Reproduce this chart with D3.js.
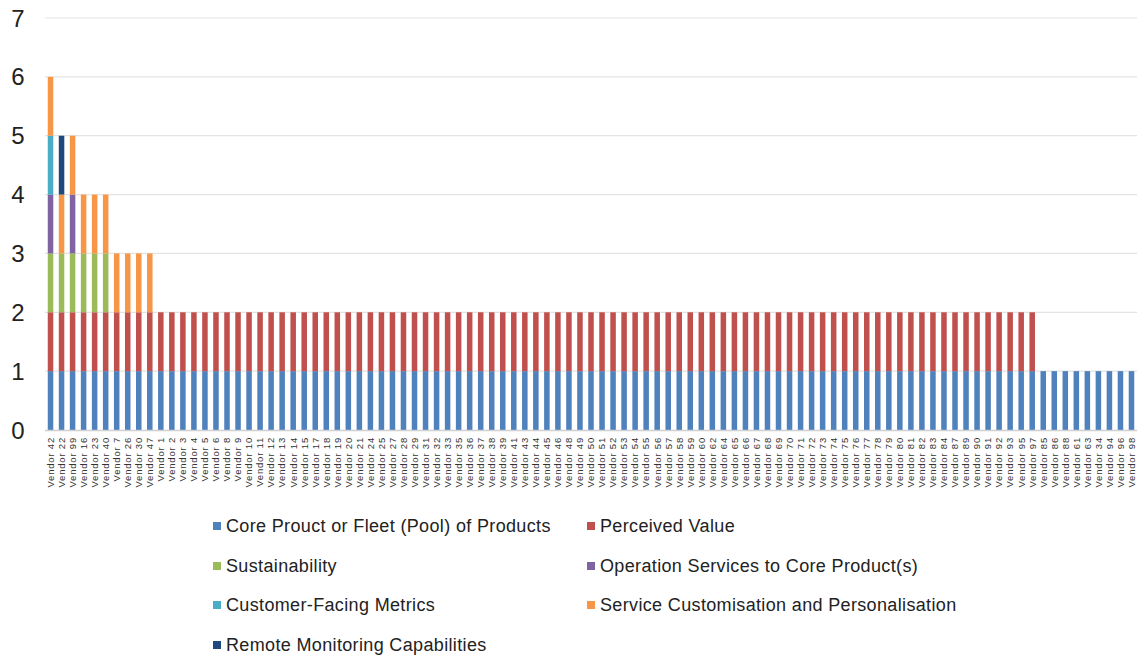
<!DOCTYPE html>
<html lang="en">
<head>
<meta charset="UTF-8">
<title>vendor-stacked-bars</title>
<script src="https://cdn.jsdelivr.net/npm/d3@7/dist/d3.min.js"></script>
<style>
  body { margin: 0; background: #fff; }
  svg { font-family: "Liberation Sans", Arial, sans-serif; }
</style>
</head>
<body>
<script>
// vendors in chart order
const vendors = [42, 22, 99, 16, 23, 40, 7, 26, 30, 47, 1, 2, 3, 4, 5, 6, 8, 9, 10, 11,
  12, 13, 14, 15, 17, 18, 19, 20, 21, 24, 25, 27, 28, 29, 31, 32, 33, 35, 36, 37,
  38, 39, 41, 43, 44, 45, 46, 48, 49, 50, 51, 52, 53, 54, 55, 56, 57, 58, 59, 60,
  62, 64, 65, 66, 67, 68, 69, 70, 71, 72, 73, 74, 75, 76, 77, 78, 79, 80, 81, 82,
  83, 84, 87, 89, 90, 91, 92, 93, 95, 97, 85, 86, 88, 61, 63, 34, 94, 96, 98]
  .map(n => 'Vendor ' + n);

const seriesNames = [
  'Core Prouct or Fleet (Pool) of Products',
  'Perceived Value',
  'Sustainability',
  'Operation Services to Core Product(s)',
  'Customer-Facing Metrics',
  'Service Customisation and Personalisation',
  'Remote Monitoring Capabilities'
];
const seriesColors = ['#4f81bd', '#c0504d', '#9bbb59', '#8064a2', '#4bacc6', '#f79646', '#1f497d'];

// one value per vendor, same order as vendors
const ones = n => Array(n).fill(1);
const zeros = n => Array(n).fill(0);
const core = ones(99);
const perceived = ones(90).concat(zeros(9));
const sustainability = ones(6).concat(zeros(93));
const operation = [1, 0, 1].concat(zeros(96));
const customerFacing = [1].concat(zeros(98));
const customisation = ones(10).concat(zeros(89));
const remote = [0, 1].concat(zeros(97));

const yTicks = [0, 1, 2, 3, 4, 5, 6, 7];

const seriesValues = [core, perceived, sustainability, operation, customerFacing, customisation, remote];
const rows = vendors.map((v, i) => {
  const r = { vendor: v };
  seriesNames.forEach((s, k) => { r[s] = seriesValues[k][i]; });
  return r;
});

const width = 1144, height = 656;
const svg = d3.select('body').append('svg')
  .attr('width', width)
  .attr('height', height);

const x = d3.scaleBand()
  .domain(vendors)
  .range([45, 1137])
  .paddingInner(0.5)
  .paddingOuter(0.25);

const y = d3.scaleLinear()
  .domain([0, 7])
  .range([430, 18]);

// gridlines
svg.append('g')
  .selectAll('line')
  .data(yTicks.slice(1))
  .join('line')
  .attr('x1', 45).attr('x2', 1137)
  .attr('y1', d => y(d)).attr('y2', d => y(d))
  .attr('stroke', '#e3e3e3')
  .attr('stroke-width', 1.2);

// y labels
svg.append('g')
  .selectAll('text')
  .data(yTicks)
  .join('text')
  .attr('x', 18)
  .attr('y', d => y(d))
  .attr('dy', '0.36em')
  .attr('text-anchor', 'middle')
  .attr('font-size', 24)
  .attr('fill', '#222')
  .text(d => d);

const stack = d3.stack().keys(seriesNames);
const layers = stack(rows);

svg.append('g')
  .selectAll('g')
  .data(layers)
  .join('g')
  .attr('fill', (d, i) => seriesColors[i])
  .selectAll('rect')
  .data(d => d.filter(p => p[1] > p[0]))
  .join('rect')
  .attr('x', d => x(d.data.vendor))
  .attr('y', d => y(d[1]))
  .attr('width', x.bandwidth())
  .attr('height', d => y(d[0]) - y(d[1]));

// baseline
svg.append('line')
  .attr('x1', 45).attr('x2', 1137)
  .attr('y1', y(0) + 0.5).attr('y2', y(0) + 0.5)
  .attr('stroke', '#d0d0d0')
  .attr('stroke-width', 1.5);

// x labels
svg.append('g')
  .selectAll('text')
  .data(vendors)
  .join('text')
  .attr('transform', d => 'translate(' + (x(d) + x.bandwidth() / 2) + ',437) rotate(-90)')
  .attr('dy', '0.35em')
  .attr('text-anchor', 'end')
  .attr('font-size', 9.5)
  .attr('letter-spacing', 0.8)
  .attr('fill', '#333')
  .text(d => d);

// legend
const legendPos = [[213, 526], [587, 526], [213, 566], [587, 566], [213, 605], [587, 605], [213, 645]];
const legend = svg.append('g')
  .selectAll('g')
  .data(seriesNames)
  .join('g')
  .attr('transform', (d, i) => 'translate(' + legendPos[i][0] + ',' + legendPos[i][1] + ')');
legend.append('rect')
  .attr('x', 0).attr('y', -4)
  .attr('width', 8).attr('height', 8)
  .attr('fill', (d, i) => seriesColors[i]);
legend.append('text')
  .attr('x', 13)
  .attr('dy', '0.35em')
  .attr('font-size', 18)
  .attr('letter-spacing', 0.35)
  .attr('fill', '#222')
  .text(d => d);
</script>
</body>
</html>
